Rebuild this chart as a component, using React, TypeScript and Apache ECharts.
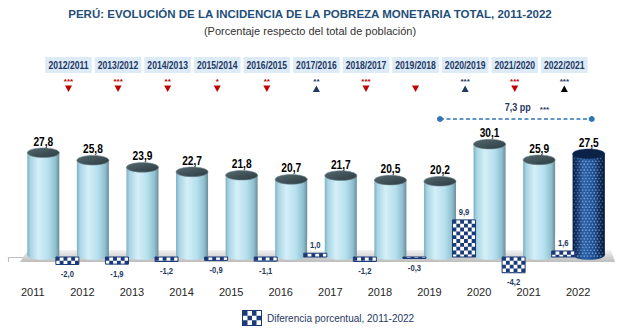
import React, { useEffect, useRef } from 'react';
import * as echarts from 'echarts';

const years = ['2011', '2012', '2013', '2014', '2015', '2016', '2017', '2018', '2019', '2020', '2021', '2022'];
const poverty = [27.8, 25.8, 23.9, 22.7, 21.8, 20.7, 21.7, 20.5, 20.2, 30.1, 25.9, 27.5];
const yearChange: (number | null)[] = [null, -2.0, -1.9, -1.2, -0.9, -1.1, 1.0, -1.2, -0.3, 9.9, -4.2, 1.6];
const periods = ['', '2012/2011', '2013/2012', '2014/2013', '2015/2014', '2016/2015', '2017/2016', '2018/2017', '2019/2018', '2020/2019', '2021/2020', '2022/2021'];
const significance = ['', '***', '***', '**', '*', '**', '**', '***', '', '***', '***', '***'];
const direction = ['', 'down', 'down', 'down', 'down', 'down', 'up', 'down', 'down', 'up', 'down', 'up'];
const rangeFrom = 8;
const rangeTo = 11;
const rangeStars = '***';

const DIFF_NAME = 'Diferencia porcentual, 2011-2022';
const FONT = "'Liberation Sans', Arial, sans-serif";
const NAVY = '#1F3864';
const RED = '#C00000';

const fmt = (v: number) => v.toFixed(1).replace('.', ',');

function checkerPath(x: number, y: number, w: number, h: number, cols: number) {
  const c = w / cols;
  let d = '';
  const rows = Math.max(1, Math.ceil(h / c - 0.01));
  for (let r = 0; r < rows; r++) {
    const yy = y + r * c;
    const hh = Math.min(c, y + h - yy);
    if (hh <= 0) break;
    for (let k = 0; k < cols; k++) {
      if ((r + k) % 2 === 0) d += `M${x + k * c} ${yy}h${c}v${hh}h${-c}Z`;
    }
  }
  return d;
}

function dotsPath(x: number, y: number, w: number, h: number, step: number, r: number) {
  let d = '';
  let row = 0;
  for (let yy = y + step / 2; yy < y + h; yy += step * 0.87, row++) {
    const off = row % 2 ? step / 2 : 0;
    for (let xx = x + off; xx < x + w - r; xx += step) {
      if (xx - r < x) continue;
      d += `M${xx - r} ${yy}a${r} ${r} 0 1 0 ${2 * r} 0a${r} ${r} 0 1 0 ${-2 * r} 0Z`;
    }
  }
  return d;
}

const lightBody = () =>
  new echarts.graphic.LinearGradient(0, 0, 1, 0, [
    { offset: 0, color: '#7FAFC0' },
    { offset: 0.1, color: '#A8D5E4' },
    { offset: 0.35, color: '#D4EFF8' },
    { offset: 0.65, color: '#B6E0EE' },
    { offset: 0.88, color: '#8FBFCF' },
    { offset: 1, color: '#6A8D99' },
  ]);

const darkBody = () =>
  new echarts.graphic.LinearGradient(0, 0, 1, 0, [
    { offset: 0, color: '#0E2D5E' },
    { offset: 0.35, color: '#2C60A8' },
    { offset: 0.65, color: '#1F4F94' },
    { offset: 1, color: '#0A2247' },
  ]);

function narrowText(x: number, y: number, scale: number, style: any) {
  return {
    type: 'text',
    x,
    y,
    scaleX: scale,
    style: { x: 0, y: 0, align: 'center', verticalAlign: 'middle', fontFamily: FONT, ...style },
  };
}

function renderMain(params: any, api: any) {
  const i = api.value(0);
  const v = api.value(1);
  const band = api.size([1, 0])[0];
  const [cx, yTop] = api.coord([i, v]);
  const yZero = api.coord([i, 0])[1];
  const w = band * 0.646;
  const x0 = cx - band * 0.111;
  const mid = x0 + w / 2;
  const rx = w / 2;
  const ry = 4.8;
  const yBot = yZero - 2;
  const isLast = i === years.length - 1;
  const children: any[] = [
    { type: 'ellipse', shape: { cx: mid, cy: yBot, rx, ry }, style: { fill: isLast ? darkBody() : lightBody() } },
    { type: 'rect', shape: { x: x0, y: yTop, width: w, height: yBot - yTop }, style: { fill: isLast ? darkBody() : lightBody() } },
  ];
  if (isLast) {
    children.push({
      type: 'path',
      shape: { pathData: dotsPath(x0, yTop, w, yBot - yTop + ry - 1, 3.3, 0.85) },
      style: { fill: 'rgba(140,180,230,0.75)' },
    });
    children.push({
      type: 'rect',
      shape: { x: x0, y: yTop, width: w, height: yBot - yTop },
      style: {
        fill: new echarts.graphic.LinearGradient(0, 0, 1, 0, [
          { offset: 0, color: 'rgba(5,20,50,0.55)' },
          { offset: 0.3, color: 'rgba(5,20,50,0)' },
          { offset: 0.7, color: 'rgba(5,20,50,0)' },
          { offset: 1, color: 'rgba(5,20,50,0.6)' },
        ]),
      },
    });
  }
  children.push({
    type: 'ellipse',
    shape: { cx: mid, cy: yTop, rx, ry },
    style: {
      fill: isLast
        ? '#0B2145'
        : new echarts.graphic.LinearGradient(0, 0, 1, 1, [
            { offset: 0, color: '#55696F' },
            { offset: 1, color: '#2B3B41' },
          ]),
      stroke: isLast ? '#14305E' : '#6F878E',
      lineWidth: 0.6,
    },
  });
  children.push(
    narrowText(mid, yTop - ry - 6.5, 0.85, { text: fmt(v), fontSize: 12, fontWeight: 'bold', fill: '#000' })
  );
  return { type: 'group', children };
}

function renderDiff(params: any, api: any) {
  const i = api.value(0);
  const v = api.value(1);
  const band = api.size([1, 0])[0];
  const [cx, yV] = api.coord([i, v]);
  const yZ = api.coord([i, 0])[1];
  const w = band * 0.464;
  const x0 = cx - band * 0.535;
  const top = Math.min(yV, yZ);
  const h = Math.max(1.5, Math.abs(yV - yZ));
  const mid = x0 + w / 2;
  const children: any[] = [
    { type: 'rect', shape: { x: x0, y: top, width: w, height: h }, style: { fill: '#fff' } },
    { type: 'path', shape: { pathData: checkerPath(x0, top, w, h, 6) }, style: { fill: '#1B3A78' } },
    { type: 'rect', shape: { x: x0, y: top, width: w, height: h }, style: { fill: 'none', stroke: '#1B3A78', lineWidth: 1 } },
  ];
  const positive = v > 0;
  children.push(
    narrowText(mid, positive ? top - 8.5 : top + h + 9.5, 0.85, {
      text: fmt(v),
      fontSize: 9,
      fontWeight: 'bold',
      fill: NAVY,
      backgroundColor: positive ? '#fff' : 'transparent',
      padding: positive ? [2, 3, 1, 3] : 0,
    })
  );
  return { type: 'group', children };
}

function renderHeader(params: any, api: any) {
  const i = api.value(0);
  const band = api.size([1, 0])[0];
  const cx = api.coord([i, 0])[0];
  const bx = cx - band * 0.28;
  const dir = direction[i];
  const markColor = dir === 'down' ? RED : i === years.length - 1 ? '#000' : NAVY;
  const starColor = dir === 'down' ? RED : NAVY;
  const children: any[] = [
    { type: 'rect', shape: { x: bx - band * 0.47, y: 57, width: band * 0.94, height: 16 }, style: { fill: '#DDEBF7' } },
    narrowText(bx, 65.5, 0.86, { text: periods[i], fontSize: 10, fontWeight: 'bold', fill: NAVY }),
  ];
  if (significance[i]) {
    children.push(narrowText(bx, 81, 1, { text: significance[i], fontSize: 8, fontWeight: 'bold', fill: starColor }));
  }
  const pts = dir === 'down'
    ? [[bx - 3.5, 85.5], [bx + 3.5, 85.5], [bx, 92]]
    : [[bx - 3.5, 92], [bx + 3.5, 92], [bx, 85.5]];
  children.push({ type: 'polygon', shape: { points: pts }, style: { fill: markColor } });
  return { type: 'group', children };
}

function renderRange(params: any, api: any) {
  const a = api.value(0);
  const b = api.value(1);
  const band = api.size([1, 0])[0];
  const xa = api.coord([a, 0])[0] + band * 0.212;
  const xb = api.coord([b, 0])[0] + band * 0.212 + 3;
  const y = 119;
  const midX = (xa + xb) / 2;
  return {
    type: 'group',
    children: [
      { type: 'line', shape: { x1: xa, y1: y, x2: xb, y2: y }, style: { stroke: '#2E75B6', lineWidth: 1.5, lineDash: [4, 2.5] } },
      { type: 'circle', shape: { cx: xa, cy: y, r: 3 }, style: { fill: '#2E75B6' } },
      { type: 'circle', shape: { cx: xb, cy: y, r: 3 }, style: { fill: '#2E75B6' } },
      narrowText(midX + 2, 107, 0.9, { text: fmt(poverty[b] - poverty[a]) + ' pp', fontSize: 10, fontWeight: 'bold', fill: NAVY }),
      {
        type: 'text',
        style: { text: rangeStars, x: midX + 24, y: 109, align: 'left', verticalAlign: 'middle', fontSize: 8, fontWeight: 'bold', fontFamily: FONT, fill: NAVY },
      },
    ],
  };
}

function renderFloor(params: any, api: any) {
  const cs = params.coordSys;
  const yZero = api.coord([0, 0])[1];
  const top = yZero - 7;
  const bot = yZero + 5;
  const L = cs.x + 12;
  const R = cs.x + cs.width + 12;
  return {
    type: 'polygon',
    shape: { points: [[L + 8, top], [R - 4, top], [R, bot], [L, bot]] },
    style: {
      fill: new echarts.graphic.LinearGradient(0, 0, 0, 1, [
        { offset: 0, color: '#F3F3F3' },
        { offset: 1, color: '#BDBDBD' },
      ]),
    },
  };
}

const LEGEND_ICON =
  'path://M0 0H20V16H0Z M1 1V15H19V1Z ' +
  'M1 1H5.5V5.67H1Z M10 1H14.5V5.67H10Z M5.5 5.67H10V10.33H5.5Z M14.5 5.67H19V10.33H14.5Z M1 10.33H5.5V15H1Z M10 10.33H14.5V15H10Z';

export default function App() {
  const ref = useRef<HTMLDivElement>(null);
  useEffect(() => {
    if (!ref.current) return;
    const chart = echarts.init(ref.current, undefined, { renderer: 'svg' });
    chart.setOption({
      animation: false,
      backgroundColor: '#fff',
      title: {
        text: 'PERÚ: EVOLUCIÓN DE LA INCIDENCIA DE LA POBREZA MONETARIA TOTAL, 2011-2022',
        subtext: '(Porcentaje respecto del total de población)',
        left: 'center',
        top: 3,
        itemGap: 5,
        textStyle: { fontSize: 11.5, fontWeight: 'bold', color: '#1F4E79', fontFamily: FONT },
        subtextStyle: { fontSize: 11, color: '#333', fontFamily: FONT },
      },
      legend: {
        data: [{ name: DIFF_NAME, icon: LEGEND_ICON }],
        left: 237,
        top: 305,
        itemWidth: 20,
        itemHeight: 16,
        itemGap: 6,
        selectedMode: false,
        textStyle: { fontSize: 10, color: NAVY, fontFamily: FONT },
      },
      grid: { left: 8, right: 17, top: 116, bottom: 68 },
      xAxis: {
        type: 'category',
        data: years,
        axisLine: { lineStyle: { color: '#BFBFBF' } },
        axisTick: { show: true, length: 5, lineStyle: { color: '#BFBFBF' } },
        axisLabel: { fontSize: 11, color: '#262626', margin: 20, fontFamily: FONT },
      },
      yAxis: { type: 'value', min: -2.4, max: 37.6, show: false, splitLine: { show: false } },
      series: [
        { type: 'custom', name: 'floor', z: 1, renderItem: renderFloor, data: [[0, 0]], silent: true },
        { type: 'custom', name: 'Pobreza monetaria', z: 2, renderItem: renderMain, data: poverty.map((v, i) => [i, v]) },
        {
          type: 'custom',
          name: DIFF_NAME,
          z: 3,
          itemStyle: { color: '#1B3A78' },
          renderItem: renderDiff,
          data: yearChange.map((v, i) => [i, v]).filter((d) => d[1] != null),
        },
        {
          type: 'custom',
          name: 'periodos',
          z: 3,
          renderItem: renderHeader,
          data: periods.map((p, i) => [i, 0]).filter((d) => periods[d[0] as number] !== ''),
        },
        { type: 'custom', name: 'rango', z: 3, renderItem: renderRange, data: [[rangeFrom, rangeTo]] },
      ],
    });
    return () => chart.dispose();
  }, []);
  return <div ref={ref} style={{ position: 'fixed', left: 0, top: 0, width: 620, height: 334 }} />;
}
